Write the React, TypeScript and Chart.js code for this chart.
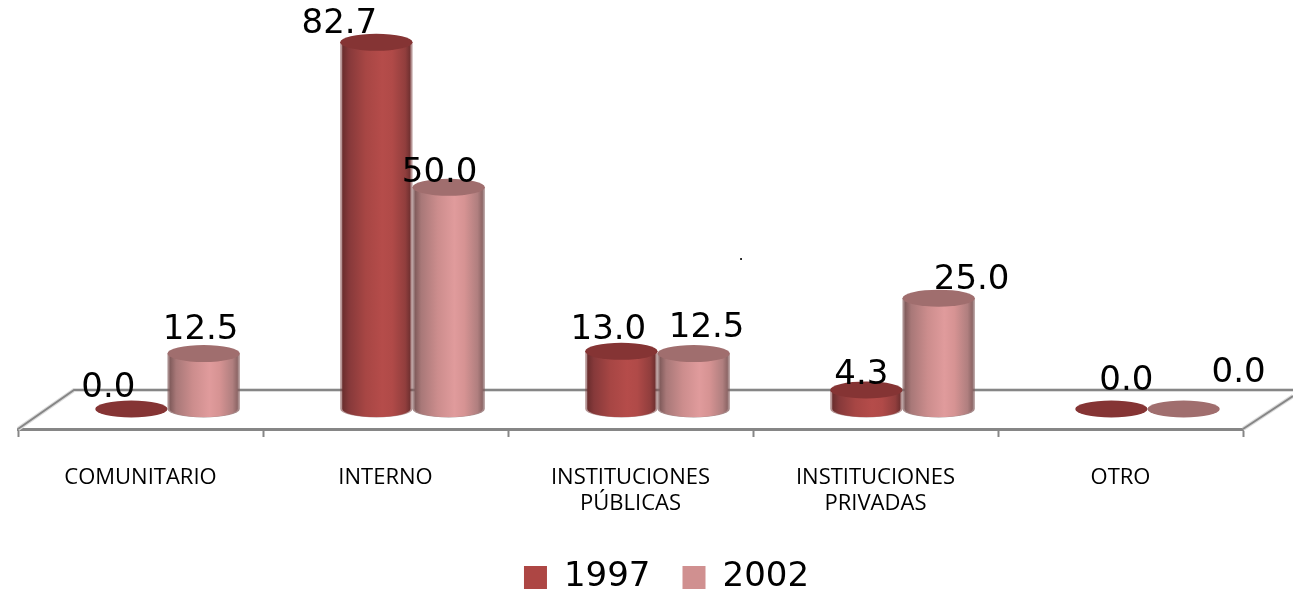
import React, { useEffect, useRef } from "react";
import { Chart, registerables } from "chart.js";

Chart.register(...registerables);

const categories = [
  "COMUNITARIO",
  "INTERNO",
  ["INSTITUCIONES", "PÚBLICAS"],
  ["INSTITUCIONES", "PRIVADAS"],
  "OTRO",
];
const values1997 = [0.0, 82.7, 13.0, 4.3, 0.0];
const values2002 = [12.5, 50.0, 12.5, 25.0, 0.0];
const seriesNames = ["1997", "2002"];

const labelOffsets1997 = [[-23, -21], [-37, -18], [-13, -21], [-5, -15], [15, -28]];
const labelOffsets2002 = [[-3, -23], [-9, -14], [13, -25], [33, -18], [55, -36]];

const DEPTH_X = 27;
const DEPTH_Y = 20;
const RY = 8.5;
const LABEL_FONT = '34px "DejaVu Sans"';

const styles = [
  {
    legend: "#ad4644",
    top: "#853434",
    halo: "rgba(120,60,60,0.55)",
    stops: ["#6a2d2d", "#86393a", "#a74644", "#b54c4a", "#b04a48", "#913e3d", "#6f3030"],
  },
  {
    legend: "#d09090",
    top: "#a06e6e",
    halo: "rgba(130,90,90,0.7)",
    stops: ["#7f5a5a", "#a87878", "#cc8d8d", "#e09b9c", "#d69393", "#b07f7f", "#8c6565"],
  },
];

const drawCylinder = (ctx: CanvasRenderingContext2D, el: any, style: any) => {
  const cx = el.x + DEPTH_X;
  const rx = el.width / 2;
  const topY = el.y - DEPTH_Y;
  const baseY = el.base - DEPTH_Y;
  const h = baseY - topY;
  if (h > 0.5) {
    const g = ctx.createLinearGradient(cx - rx, 0, cx + rx, 0);
    style.stops.forEach((c: string, i: number) => {
      const pos = [0.03, 0.12, 0.35, 0.58, 0.72, 0.9, 0.97][i];
      g.addColorStop(pos, c);
    });
    ctx.beginPath();
    ctx.moveTo(cx - rx, topY);
    ctx.lineTo(cx - rx, baseY);
    ctx.ellipse(cx, baseY, rx, RY, 0, Math.PI, 0, true);
    ctx.lineTo(cx + rx, topY);
    ctx.closePath();
    ctx.fillStyle = style.halo;
    ctx.fill();
    ctx.beginPath();
    ctx.moveTo(cx - rx + 2, topY);
    ctx.lineTo(cx - rx + 2, baseY);
    ctx.ellipse(cx, baseY, rx - 2, RY - 0.5, 0, Math.PI, 0, true);
    ctx.lineTo(cx + rx - 2, topY);
    ctx.closePath();
    ctx.fillStyle = g;
    ctx.fill();
  }
  ctx.beginPath();
  ctx.ellipse(cx, topY, rx, RY, 0, 0, Math.PI * 2);
  ctx.fillStyle = style.top;
  ctx.fill();
};

const cylinderPlugin = {
  id: "cylinders",
  afterLayout(chart: any) {
    const legend = chart.legend;
    legend.left += 36;
    legend.right += 36;
    legend.top += 14.5;
    legend.bottom += 14.5;
  },
  beforeDatasetsDraw(chart: any) {
    const { ctx, chartArea } = chart;
    const floorY = chartArea.bottom;
    const backY = floorY - 39;
    ctx.save();
    // floor outline
    ctx.lineCap = "butt";
    ctx.strokeStyle = "#dcdcdc";
    ctx.lineWidth = 4;
    ctx.beginPath();
    ctx.moveTo(chartArea.left, floorY);
    ctx.lineTo(chartArea.left + 56, backY);
    ctx.lineTo(chart.width, backY);
    ctx.stroke();
    ctx.beginPath();
    ctx.moveTo(chartArea.right, floorY);
    ctx.lineTo(chart.width, floorY - 33);
    ctx.stroke();
    ctx.strokeStyle = "#868686";
    ctx.lineWidth = 2;
    ctx.beginPath();
    ctx.moveTo(chartArea.left, floorY);
    ctx.lineTo(chartArea.left + 56, backY);
    ctx.lineTo(chart.width, backY);
    ctx.stroke();
    ctx.beginPath();
    ctx.moveTo(chartArea.right, floorY);
    ctx.lineTo(chart.width, floorY - 33);
    ctx.stroke();
    chart.data.datasets.forEach((_: any, d: number) => {
      chart.getDatasetMeta(d).data.forEach((el: any) => drawCylinder(ctx, el, styles[d]));
    });
    ctx.restore();
    return false;
  },
  afterDraw(chart: any) {
    const { ctx } = chart;
    const offsets = [labelOffsets1997, labelOffsets2002];
    ctx.save();
    ctx.font = LABEL_FONT;
    ctx.fillStyle = "#000";
    ctx.textAlign = "center";
    ctx.textBaseline = "middle";
    chart.data.datasets.forEach((ds: any, d: number) => {
      chart.getDatasetMeta(d).data.forEach((el: any, i: number) => {
        const [dx, dy] = offsets[d][i];
        ctx.fillText(ds.data[i].toFixed(1), el.x + DEPTH_X + dx, el.y - DEPTH_Y + dy);
      });
    });
    ctx.font = '16px "DejaVu Sans"';
    ctx.fillText(".", 741, 256);
    ctx.restore();
  },
};

export default function App() {
  const ref = useRef<HTMLCanvasElement>(null);
  useEffect(() => {
    const chart = new Chart(ref.current!, {
      type: "bar",
      data: {
        labels: categories as any,
        datasets: [
          { label: seriesNames[0], data: values1997, backgroundColor: styles[0].legend, borderWidth: 0 },
          { label: seriesNames[1], data: values2002, backgroundColor: styles[1].legend, borderWidth: 0 },
        ],
      },
      options: {
        responsive: false,
        animation: false,
        categoryPercentage: 0.59,
        barPercentage: 1,
        layout: { padding: { left: 18, right: 50, top: 30, bottom: 4 } },
        plugins: {
          tooltip: { enabled: false },
          title: { display: false },
          legend: {
            position: "bottom",
            labels: {
              boxWidth: 23,
              boxHeight: 23,
              padding: 32,
              color: "#000",
              font: { family: '"DejaVu Sans"', size: 34 },
            },
          },
        },
        scales: {
          y: { display: false, min: 0, max: 90 },
          x: {
            afterFit(scale: any) {
              scale.height = 85;
            },
            border: { display: true, color: "#868686", width: 3 },
            grid: {
              drawOnChartArea: false,
              drawTicks: true,
              tickLength: 8,
              tickWidth: 2,
              tickColor: "#868686",
              offset: true,
            },
            ticks: {
              maxRotation: 0,
              autoSkip: false,
              padding: 28,
              color: "#000",
              font: { family: '"Open Sans"', size: 22, lineHeight: 1.18 },
            },
          },
        },
      } as any,
      plugins: [cylinderPlugin],
    });
    return () => chart.destroy();
  }, []);
  return (
    <div style={{ position: "fixed", left: 0, top: 0, width: 1293, height: 594, background: "#fff" }}>
      <canvas ref={ref} width={1293} height={594} style={{ display: "block" }} />
    </div>
  );
}
